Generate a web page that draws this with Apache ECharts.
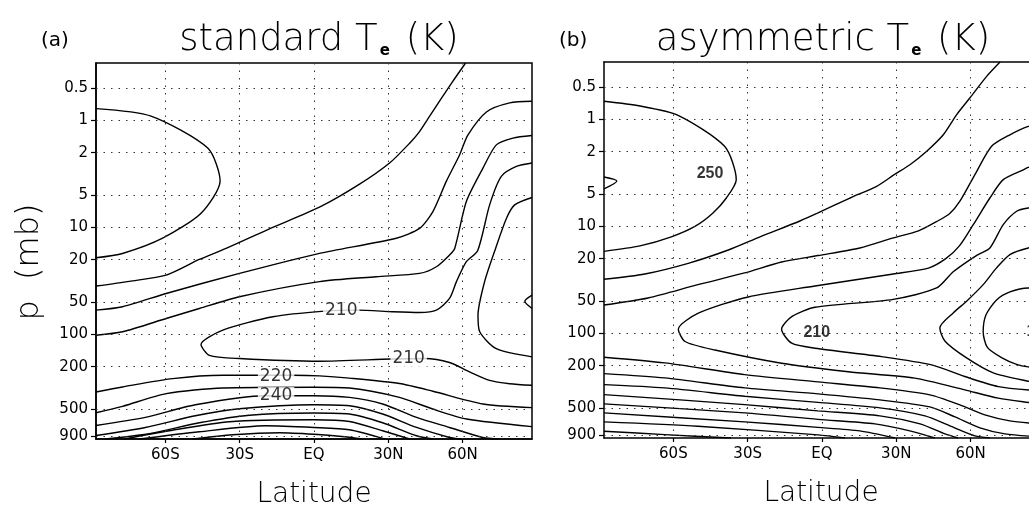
<!DOCTYPE html>
<html>
<head>
<meta charset="utf-8">
<script src="https://cdn.jsdelivr.net/npm/echarts@6/dist/echarts.min.js"></script>
<style>html,body{margin:0;padding:0;background:#fff}#c{width:1029px;height:514px}</style>
</head>
<body>
<div id="c"></div>
<script>
// ---- axis ticks ----
const LAT_TICKS = [-60, -30, 0, 30, 60];
const LAT_LABELS = ['60S', '30S', 'EQ', '30N', '60N'];
const P_TICKS = [0.5, 1, 2, 5, 10, 20, 50, 100, 200, 500, 900];
const LAT_MIN = -88, LAT_MAX = 88, LAT_MAX_B_VISIBLE = 83.6, P_TOP = 0.29, P_BOTTOM = 950;

// ---- panel (a) standard Te contours: [latitude, pressure mb] ----
const A_250 = [[-88,0.775],[-65.8,0.91],[-42.9,1.81],[-37.9,3.67],[-45.6,7.36],[-61.1,12.6],[-77.3,17.5],[-88,19.2]];
const A_240 = [[-88,35.3],[-74.5,31.9],[-59.7,27.9],[-46.3,19.9],[-35.5,15.7],[-18,10.3],[2.2,6.47],[18.4,3.94],[30.5,2.5],[38.6,1.63],[42.6,1.27],[46.7,0.91],[55.6,0.445],[61.2,0.29]];
const A_230 = [[-88,59.3],[-77.3,55.1],[-59.7,41.4],[-30.1,26.9],[2.2,17.45],[33.2,12.6],[42.6,10.2],[48,7.1],[53.4,3.71],[58.8,2.09],[62.1,1.37],[69.6,0.832],[79,0.685],[88,0.661]];
const A_220U = [[-88,101.7],[-77.3,94.5],[-59.7,71],[-46.3,57.2],[-30.1,44.4],[2.2,32.1],[25.1,28.9],[42.6,26.9],[49.4,23.3],[54.7,18.1],[56.8,15.7],[61.5,5.72],[68.2,2.79],[73.6,1.69],[80.3,1.46],[88,1.38]];
const A_210 = [[88,2.5],[81.7,2.69],[75.6,3.33],[70.9,6.15],[66.1,16.4],[61.5,20.9],[57.5,32.1],[54.7,46.1],[49.4,59.3],[42.6,62.4],[31.8,61.4],[17.7,59.3],[4.2,60.6],[-16.6,68.4],[-36.8,91.3],[-45.6,124],[-42.2,157],[-30.1,168],[2.2,178],[31.3,170],[44.6,168],[54.7,183],[62.8,224],[70.9,269],[79,289],[88,299]];
const A_200 = [[88,5.25],[81,6.15],[77.7,8.2],[73.3,15.7],[68.9,31.9],[66.2,66.1],[66.9,94.5],[73.6,136],[88,162]];
const A_190 = [[88,42.9],[85.1,48.9],[88,57.2]];
const A_220L = [[-88,345],[-77.3,310],[-57.1,259],[-36.8,241],[-22,241],[-8.6,241],[2.2,244],[14.3,256],[34.5,288],[48,340],[68.2,447],[88,483]];
const A_230L = [[-88,540],[-77.3,470],[-59.7,358],[-36.8,317],[0,312],[14.3,317],[34.5,388],[47.9,498],[61.6,618],[88,727]];
const A_240L = [[-88,710],[-68.1,597],[-47.9,454],[-19.6,374],[0,374],[14.3,388],[27.7,447],[41.4,597],[54.7,741],[68.1,919],[74.9,950]];
const A_250L = [[-88,880],[-68.1,741],[-47.9,576],[-30.1,495],[0,454],[14.3,464],[27.7,555],[41.4,741],[54.7,919],[59.6,950]];
const A_260 = [[-84.6,950],[-66.5,849],[-46.3,670],[-26.1,569],[0,543],[14.3,555],[27.7,670],[41.4,886],[47.9,950]];
const A_270 = [[-76.6,950],[-58.4,796],[-34.1,655],[0,628],[14.3,651],[27.7,796],[38.6,950]];
const A_280 = [[-70.5,950],[-46.3,813],[-19.6,714],[0,741],[14.3,779],[28.5,950]];
const A_290 = [[-49.1,950],[-32.9,867],[-13.9,830],[0,858],[12.3,905],[19.6,950]];
const A_LABELS = [[-15.3,246,'220'],[-15.3,372,'240'],[11,60,'210'],[38.2,169,'210']];

// ---- panel (b) asymmetric Te contours ----
const B_250 = [[-88,0.676],[-73.5,0.748],[-58.1,0.913],[-39.3,1.78],[-34.6,3.65],[-38.6,5.42],[-44,7.48],[-51.3,10.0],[-60.8,12.5],[-73.5,15.2],[-88,17.1]];
const B_260 = [[-88,3.45],[-82.8,3.76],[-88,4.46]];
const B_240 = [[-88,31.2],[-71.5,27.8],[-54,22.1],[-37.8,16.6],[-25,12.5],[-8.9,8.89],[-1.6,7.48],[11.3,5.42],[22.1,4.21],[29,3.3],[35.5,2.65],[42.3,1.98],[49,1.39],[54.4,0.90],[59.7,0.63],[66.5,0.395],[71.9,0.29]];
const B_230 = [[-88,54.2],[-70.2,46.6],[-50.1,35],[-31.2,27.2],[-16.3,21.5],[-1.6,18.7],[15.3,15.9],[28.8,12.8],[39,11],[46.3,9.0],[51.5,7.6],[55.7,5.81],[62.5,3.05],[68.5,1.78],[75.9,1.39],[83.3,1.16],[88,1.11]];
const B_220 = [[88,2.72],[83.3,2.8],[81.3,2.95],[73.2,3.65],[67.8,5.42],[61.1,9.62],[55.5,15.2],[50,20],[43,24.5],[28.8,27.8],[-2.8,36],[-29.8,45.6],[-49.9,64.7],[-58,91.3],[-55.3,119],[-43.2,143],[-16.3,190],[10.6,228],[37.5,262],[57.7,337],[71.2,403],[88,456]];
const B_210 = [[88,6.64],[83.3,6.72],[78.6,7.21],[73.2,9.62],[67.8,15.9],[62.5,18.6],[53,26.5],[46.3,37.6],[28.8,48],[-2.8,57],[-12.2,69.7],[-16.3,91.3],[-12.2,123.5],[-2.8,137.5],[24.1,164.8],[44.3,197],[57.7,253],[71.2,314],[88,345]];
const B_200 = [[88,15.5],[83.3,15.9],[75.9,18.3],[70.5,24.4],[65.1,35],[58.4,50],[53,64.3],[47.6,88.8],[49.7,118.3],[58.4,169.4],[69.2,234],[83.3,280],[88,290]];
const B_190 = [[88,37.6],[83.3,37.6],[75.9,40.9],[70.5,48.6],[66.2,67.2],[65.1,96.8],[66.8,135.1],[72.7,169.4],[78.6,194.9],[83.3,205.6],[88,207.9]];
const B_230L = [[-88,166.9],[-63.5,188.7],[-31.2,242.7],[-1.6,284],[23.4,323.2],[43.6,375.7],[55.7,465.8],[65.8,577.7],[75.9,657.3],[88,701.2]];
const B_240L = [[-88,237.5],[-63.5,260.6],[-31.2,323.2],[-1.6,367.6],[23.4,418.3],[43.6,486.3],[53.7,603.1],[63.8,764.3],[73.9,869.7],[88,927.6]];
const B_250L = [[-88,301],[-63.5,323.2],[-31.2,386.3],[-1.6,441.4],[23.4,496.9],[41.6,590.2],[51.7,732.1],[61.8,907.8],[67.8,950]];
const B_260L = [[-88,373.3],[-31.2,462.8],[-1.6,530.1],[23.4,590.2],[39.6,701.2],[49.7,869.7],[54.9,950]];
const B_270L = [[-88,455.9],[-31.2,553.4],[-1.6,636.4],[21.4,701.2],[35.5,815.2],[45.6,950]];
const B_280L = [[-88,553.4],[-31.2,671.6],[-1.6,756.1],[15.3,815.2],[29.5,950]];
const B_290L = [[-88,671.6],[-50.1,736.8],[-1.6,888.5],[9.3,950]];
const B_300L = [[-88,820.4],[-63.5,882.8],[-36.7,950]];
const B_LABELS = [[-45.2,3.2,'250'],[-2.1,98,'210'],[88,96,'190']];

const CONTOURS_A = [A_250, A_240, A_230, A_220U, A_210, A_200, A_190, A_220L, A_230L, A_240L, A_250L, A_260, A_270, A_280, A_290];
const CONTOURS_B = [B_250, B_260, B_240, B_230, B_220, B_210, B_200, B_190, B_230L, B_240L, B_250L, B_260L, B_270L, B_280L, B_290L, B_300L];

const FONT = "'DejaVu Sans', 'Liberation Sans', sans-serif";
const LOG_TICKS = P_TICKS.map(Math.log10);
const pLabel = v => { const t = P_TICKS.find(p => Math.abs(Math.log10(p) - v) < 1e-6); return t === undefined ? '' : String(t); };
const latLabel = v => { const i = LAT_TICKS.indexOf(Math.round(v)); return i < 0 ? '' : LAT_LABELS[i]; };
const toXY = arr => arr.map(d => [d[0], Math.log10(d[1])]);
const AXIS_LINE = { show: true, onZero: false, lineStyle: { color: '#000', width: 1.5 } };

function xAxisFor(idx, maxLat, namePad) {
  return {
    type: 'value', gridIndex: idx, min: LAT_MIN, max: maxLat,
    axisLine: AXIS_LINE,
    axisTick: { show: true, customValues: LAT_TICKS, length: 4, lineStyle: { color: '#000', width: 1.2 } },
    axisLabel: { customValues: LAT_TICKS, formatter: latLabel, color: '#000', fontSize: 15, fontFamily: FONT, margin: 9 },
    splitLine: { show: false },
    name: 'Latitude', nameLocation: 'middle', nameGap: 42,
    nameTextStyle: { fontSize: 28, fontFamily: FONT, fontWeight: 200, color: '#000', padding: namePad }
  };
}
function topBorderAxis(idx, maxLat) {
  return {
    type: 'value', gridIndex: idx, position: 'top', min: LAT_MIN, max: maxLat,
    axisLine: AXIS_LINE, axisTick: { show: false }, axisLabel: { show: false }, splitLine: { show: false }
  };
}
function yAxisFor(idx, name) {
  return {
    type: 'value', gridIndex: idx, inverse: true, min: Math.log10(P_TOP), max: Math.log10(P_BOTTOM),
    axisLine: AXIS_LINE,
    axisTick: { show: true, customValues: LOG_TICKS, length: 5, lineStyle: { color: '#000', width: 1.2 } },
    axisLabel: { customValues: LOG_TICKS, formatter: pLabel, color: '#000', fontSize: 15, fontFamily: FONT, margin: 8 },
    splitLine: { show: false },
    name: name, nameLocation: 'middle', nameGap: 50,
    nameTextStyle: { fontSize: 32, fontFamily: FONT, fontWeight: 200, color: '#000', padding: [0, 22, 0, 0] }
  };
}
function gridMarks() {
  return {
    silent: true, symbol: ['none', 'none'], animation: false, label: { show: false },
    lineStyle: { type: [1.5, 6], color: '#333', width: 1 },
    emphasis: { disabled: true },
    data: LAT_TICKS.map(v => ({ xAxis: v })).concat(LOG_TICKS.map(v => ({ yAxis: v })))
  };
}
function contourSeries(list, idx) {
  return list.map((c, i) => ({
    type: 'line', xAxisIndex: idx, yAxisIndex: idx, data: toXY(c), showSymbol: false, symbol: 'none',
    smooth: 0.25, lineStyle: { color: '#000', width: 1.4 }, silent: true, z: 2,
    emphasis: { disabled: true },
    markLine: i === 0 ? gridMarks() : undefined
  }));
}
function labelSeries(list, idx, style) {
  return {
    type: 'scatter', xAxisIndex: idx, yAxisIndex: idx, symbol: 'rect', symbolSize: 1,
    itemStyle: { color: 'rgba(0,0,0,0)' }, z: 5, silent: true, clip: false,
    data: list.map(d => ({ value: [d[0], Math.log10(d[1])], name: d[2] })),
    label: Object.assign({ show: true, position: 'inside', formatter: '{b}', color: '#000' }, style)
  };
}

const titleRich = {
  m: { fontSize: 37, fontFamily: FONT, fontWeight: 200, color: '#000' },
  s: { fontSize: 15, fontFamily: FONT, fontWeight: 'bold', color: '#000', verticalAlign: 'bottom', padding: [0, 4, 0, 2] }
};
const smallTitle = { fontSize: 20, fontFamily: FONT, fontWeight: 'normal', color: '#000' };

const option = {
  backgroundColor: '#fff',
  animation: false,
  title: [
    { text: '(a)', left: 36, top: 26, textStyle: smallTitle },
    { text: '{m|standard T}{s|e}{m| (K)}', left: 314, top: 17, textAlign: 'center', textStyle: { rich: titleRich } },
    { text: '(b)', left: 554, top: 26, textStyle: smallTitle },
    { text: '{m|asymmetric T}{s|e}{m| (K)}', left: 818, top: 17, textAlign: 'center', textStyle: { rich: titleRich } }
  ],
  grid: [
    { left: 96, top: 63, width: 436, height: 376, show: true, borderColor: '#000', borderWidth: 1.5, backgroundColor: 'transparent' },
    // panel (b) runs past the right edge of the picture: only its visible part is laid out
    { left: 604, top: 62, width: 425, height: 376, show: false }
  ],
  xAxis: [xAxisFor(0, LAT_MAX, [0, 0, 0, 0]), xAxisFor(1, LAT_MAX_B_VISIBLE, [0, 0, 0, 9]), topBorderAxis(1, LAT_MAX_B_VISIBLE)],
  yAxis: [yAxisFor(0, 'p  (mb)'), yAxisFor(1, '')],
  series: [].concat(
    contourSeries(CONTOURS_A, 0),
    contourSeries(CONTOURS_B, 1),
    [labelSeries(A_LABELS, 0, { fontSize: 17, fontFamily: FONT, backgroundColor: '#fff', padding: [0, 2] }),
     labelSeries(B_LABELS, 1, { fontSize: 16, fontFamily: "'Liberation Sans', Arial, sans-serif", fontWeight: 'bold' })]
  )
};
const chart = echarts.init(document.getElementById('c'), null, { renderer: 'canvas' });
chart.setOption(option);
</script>
</body>
</html>
